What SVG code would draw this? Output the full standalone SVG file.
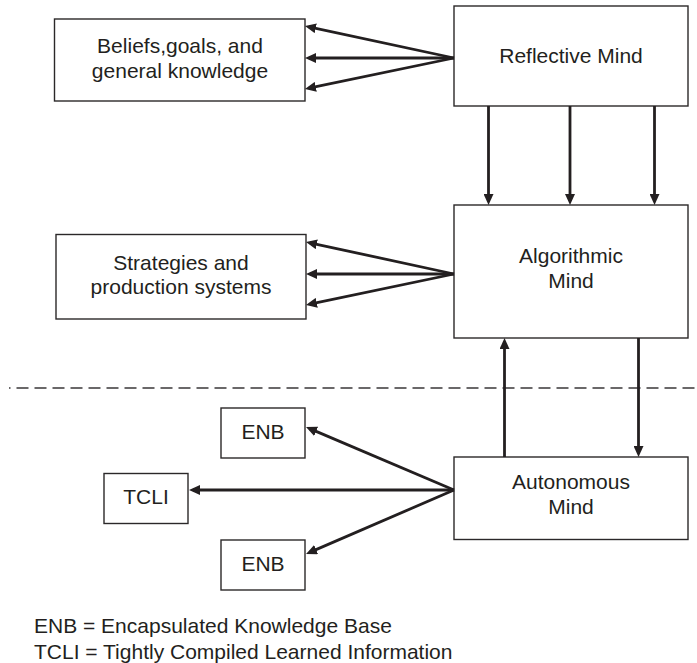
<svg xmlns="http://www.w3.org/2000/svg" width="697" height="663" viewBox="0 0 697 663">
  <style>
    .box { fill: #ffffff; stroke: #2b2829; stroke-width: 1.4; }
    .lbl { font-family: "Liberation Sans", Arial, sans-serif; font-size: 21px; fill: #231f20; text-anchor: middle; }
    .legend { font-family: "Liberation Sans", Arial, sans-serif; font-size: 21px; fill: #231f20; }
    .arrow { stroke: #231f20; stroke-width: 2.8; fill: none; marker-end: url(#head); }
    .divider { stroke: #3a3738; stroke-width: 1.5; stroke-dasharray: 12 6; stroke-dashoffset: 10.5; fill: none; }
  </style>
  <defs>
    <marker id="head" markerUnits="userSpaceOnUse" markerWidth="11" markerHeight="10" refX="7" refY="5" orient="auto">
      <path d="M0,0 L11,5 L0,10 z" fill="#231f20"/>
    </marker>
  </defs>
  <rect width="697" height="663" fill="#ffffff"/>

  <!-- level divider -->
  <line class="divider" x1="9" y1="388" x2="697" y2="388"/>

  <g id="reflective-mind">
    <rect class="box" x="454" y="6" width="234" height="100"/>
    <text class="lbl" x="571" y="63">Reflective Mind</text>
  </g>
  <g id="beliefs">
    <rect class="box" x="54.5" y="19" width="250.5" height="82"/>
    <text class="lbl" x="180" y="53">Beliefs,goals, and</text>
    <text class="lbl" x="180" y="78">general knowledge</text>
  </g>
  <g id="algorithmic-mind">
    <rect class="box" x="454" y="205" width="234" height="133"/>
    <text class="lbl" x="571" y="263">Algorithmic</text>
    <text class="lbl" x="571" y="288">Mind</text>
  </g>
  <g id="strategies">
    <rect class="box" x="56" y="234.5" width="250" height="84.5"/>
    <text class="lbl" x="181" y="269.5">Strategies and</text>
    <text class="lbl" x="181" y="293.5">production systems</text>
  </g>
  <g id="autonomous-mind">
    <rect class="box" x="454" y="457" width="234" height="82.5"/>
    <text class="lbl" x="571" y="489">Autonomous</text>
    <text class="lbl" x="571" y="514">Mind</text>
  </g>
  <g id="enb-top">
    <rect class="box" x="221" y="408" width="84" height="50"/>
    <text class="lbl" x="263" y="439">ENB</text>
  </g>
  <g id="tcli">
    <rect class="box" x="104" y="473.5" width="84" height="50"/>
    <text class="lbl" x="146" y="504">TCLI</text>
  </g>
  <g id="enb-bottom">
    <rect class="box" x="221" y="540" width="84" height="50"/>
    <text class="lbl" x="263" y="571">ENB</text>
  </g>

  <g id="connectors">
    <!-- reflective mind to beliefs -->
    <line class="arrow" x1="454" y1="58" x2="308.9" y2="26.8"/>
    <line class="arrow" x1="454" y1="58" x2="309" y2="58"/>
    <line class="arrow" x1="454" y1="58" x2="308.9" y2="88.2"/>
    <!-- reflective mind to algorithmic mind -->
    <line class="arrow" x1="488.5" y1="106" x2="488.5" y2="201"/>
    <line class="arrow" x1="570" y1="106" x2="570" y2="201"/>
    <line class="arrow" x1="654.5" y1="106" x2="654.5" y2="201"/>
    <!-- algorithmic mind to strategies -->
    <line class="arrow" x1="454" y1="274" x2="309.9" y2="242.8"/>
    <line class="arrow" x1="454" y1="274" x2="310" y2="274"/>
    <line class="arrow" x1="454" y1="274" x2="309.9" y2="304.2"/>
    <!-- algorithmic / autonomous exchange -->
    <line class="arrow" x1="504.5" y1="457" x2="504.5" y2="342"/>
    <line class="arrow" x1="638.5" y1="338" x2="638.5" y2="453"/>
    <!-- autonomous mind to its stores -->
    <line class="arrow" x1="454" y1="490" x2="309.7" y2="428.6"/>
    <line class="arrow" x1="454" y1="490" x2="193" y2="490"/>
    <line class="arrow" x1="454" y1="490" x2="309.7" y2="552.4"/>
  </g>

  <g id="legend">
    <text class="legend" x="34" y="633">ENB = Encapsulated Knowledge Base</text>
    <text class="legend" x="34" y="659">TCLI = Tightly Compiled Learned Information</text>
  </g>
</svg>
